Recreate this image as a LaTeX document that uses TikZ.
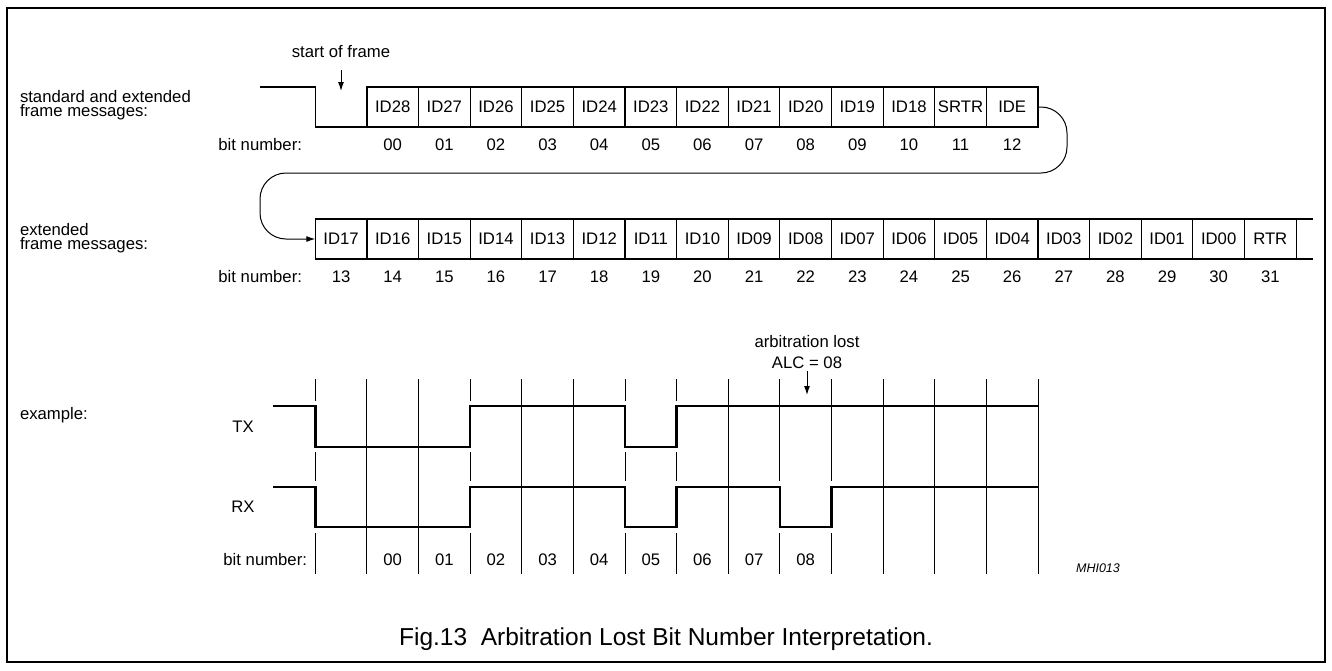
\documentclass[tikz,border=0pt]{standalone}
\usepackage{fontspec}
\setmainfont{Liberation Sans}
\usetikzlibrary{arrows.meta}
\begin{document}
\begin{tikzpicture}[x=1pt,y=-1pt,
  every node/.style={inner sep=0pt, outer sep=0pt},
  body/.style={font=\fontsize{16.7}{20}\selectfont},
  twoline/.style={font=\fontsize{16.7}{14}\selectfont, align=left, anchor=north west},
  bitbox/.style={draw, line width=1.2pt, minimum width=51.62pt, minimum height=40pt, body},
  numlbl/.style={body, anchor=base},
  boxline/.style={line width=1.2pt},
  sig/.style={line width=2.6pt, line join=miter},
  gridline/.style={line width=0.9pt},
  gapcut/.style={white, line width=3.5pt},
  arr/.style={line width=1pt, -{Latex[length=9pt,width=6pt]}},
]
\useasboundingbox (0,0) rectangle (1332,670);
\draw[line width=2pt] (7,8) rectangle (1325,662);

% ---------- row 1 ----------
\node[twoline] (l1) at (20,90) {standard and extended\\frame messages:};
\node[body, anchor=base east] (bn1) at (302,150) {bit number:};
\foreach \t/\n [count=\i] in {ID28/00,ID27/01,ID26/02,ID25/03,ID24/04,ID23/05,ID22/06,ID21/07,ID20/08,ID19/09,ID18/10,SRTR/11,IDE/12} {
  \node[bitbox] (a\i) at ({315.3+51.62*(\i+0.5)},107) {\t};
  \node[numlbl] (an\i) at ({315.3+51.62*(\i+0.5)},150) {\n};
}
\coordinate (s0) at (260,87);
\draw[boxline] (s0) -- (315.3,87) -- (315.3,127) -- (a1.south west);
\node[body, anchor=base] (sof) at (341,57) {start of frame};
\coordinate (sofend) at (341,91);
\draw[arr] (sof.south) ++(0,13) -- (sofend);

% ---------- row 2 ----------
\node[twoline] (l2) at (20,223) {extended\\frame messages:};
\node[body, anchor=base east] (bn2) at (302,282) {bit number:};
\foreach \t/\n [count=\i from 0] in {ID17/13,ID16/14,ID15/15,ID14/16,ID13/17,ID12/18,ID11/19,ID10/20,ID09/21,ID08/22,ID07/23,ID06/24,ID05/25,ID04/26,ID03/27,ID02/28,ID01/29,ID00/30,RTR/31} {
  \node[bitbox] (b\i) at ({315.3+51.62*(\i+0.5)},239) {\t};
  \node[numlbl] (bnum\i) at ({315.3+51.62*(\i+0.5)},282) {\n};
}
\coordinate (r2t) at (1313,219);
\coordinate (r2b) at (1313,259);
\draw[boxline] (b18.north east) -- (r2t);
\draw[boxline] (b18.south east) -- (r2b);

% connector from IDE to ID17
\draw[line width=1pt, rounded corners=26pt, -{Latex[length=9pt,width=6pt]}]
  (a13.east) -- (1067,107) -- (1067,173) -- (260,173) -- (260,239) -- (b0.west);

% ---------- timing example ----------
\node[body, anchor=base west] (ex) at (20,419) {example:};
\node[body, anchor=base] (tx) at (243,432) {TX};
\node[body, anchor=base] (rx) at (243,512) {RX};
\node[body, anchor=base east] (bn3) at (307,565) {bit number:};

\foreach \k in {0,...,14} {
  \draw[gridline] ({315.3+51.62*\k},379) -- ({315.3+51.62*\k},574);
}
\foreach \k in {0,3,6,7} {
  \draw[gapcut] ({315.3+51.62*\k},401) -- ({315.3+51.62*\k},452);
}
\foreach \k in {0,3,6,7,9,10} {
  \draw[gapcut] ({315.3+51.62*\k},481) -- ({315.3+51.62*\k},533);
}
\draw[sig] (273,406) -- (315.30,406) -- (315.30,447) -- (470.16,447) -- (470.16,406)
  -- (625.02,406) -- (625.02,447) -- (676.64,447) -- (676.64,406) -- (1037.98,406);
\draw[sig] (273,487) -- (315.30,487) -- (315.30,527) -- (470.16,527) -- (470.16,487)
  -- (625.02,487) -- (625.02,527) -- (676.64,527) -- (676.64,487) -- (779.88,487)
  -- (779.88,527) -- (831.50,527) -- (831.50,487) -- (1037.98,487);

\foreach \n [count=\i] in {00,01,02,03,04,05,06,07,08} {
  \node[numlbl] (cn\i) at ({315.3+51.62*(\i+0.5)},565) {\n};
}

\node[body, anchor=base] (al1) at (807,347) {arbitration lost};
\node[body, anchor=base] (al2) at (807,368) {ALC = 08};
\coordinate (alend) at (807,395);
\draw[arr] (al2.south) ++(0,3) -- (alend);

\node[font=\fontsize{12.5}{14}\selectfont\itshape, anchor=base] (mhi) at (1098,572) {MHI013};

\node[font=\fontsize{24.5}{28}\selectfont, anchor=base] (cap) at (666,645) {Fig.13\ \ Arbitration Lost Bit Number Interpretation.};
\end{tikzpicture}
\end{document}
